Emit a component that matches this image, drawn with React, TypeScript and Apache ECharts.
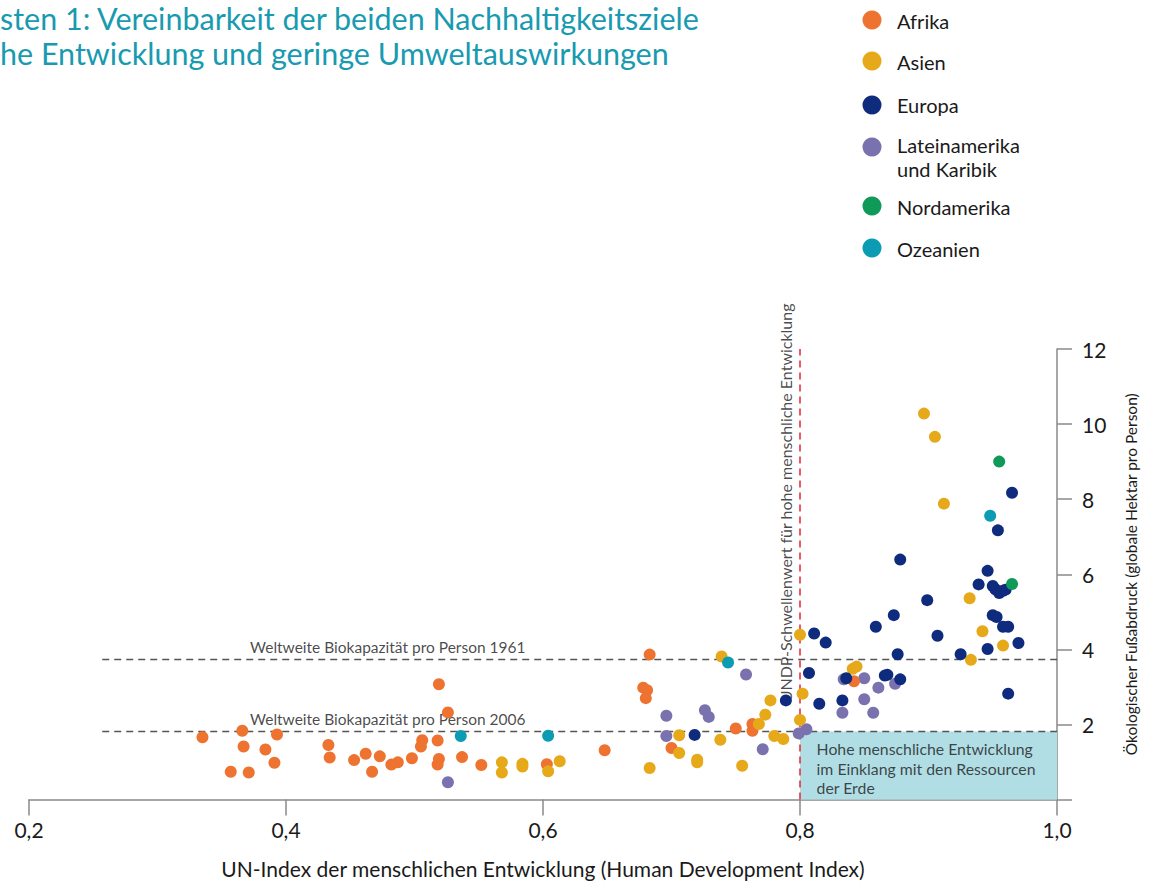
import React, { useEffect, useRef } from "react";
import * as echarts from "echarts";

// ---------- data (HDI, ecological footprint in gha per person) ----------
const REGION_NAMES = ["Afrika", "Asien", "Europa", "Lateinamerika und Karibik", "Nordamerika", "Ozeanien"];
const LEGEND_LABELS = ["Afrika", "Asien", "Europa", "Lateinamerika\nund Karibik", "Nordamerika", "Ozeanien"];
const REGION_COLORS = ["#EE7330", "#E6A919", "#0E2B7E", "#7A72AE", "#0F9A57", "#0B9CB3"];

const AFRIKA: [number, number][] = [
  [0.335, 1.66], [0.366, 1.83], [0.367, 1.41], [0.357, 0.74], [0.371, 0.72], [0.384, 1.33], [0.393, 1.73], [0.391, 0.98],
  [0.433, 1.45], [0.434, 1.12], [0.453, 1.05], [0.462, 1.22], [0.473, 1.15], [0.467, 0.74], [0.482, 0.93], [0.487, 0.99],
  [0.498, 1.10], [0.505, 1.41], [0.506, 1.58], [0.518, 1.57], [0.519, 3.07], [0.526, 2.32], [0.519, 1.08], [0.518, 0.93],
  [0.537, 1.13], [0.552, 0.92], [0.603, 0.94], [0.648, 1.31], [0.683, 3.86], [0.678, 2.98], [0.681, 2.91], [0.680, 2.70],
  [0.700, 1.37], [0.750, 1.89], [0.763, 2.01], [0.763, 1.83], [0.842, 3.15],
];
const ASIEN: [number, number][] = [
  [0.568, 0.99], [0.568, 0.72], [0.584, 0.95], [0.584, 0.88], [0.604, 0.75], [0.613, 1.02], [0.683, 0.84], [0.706, 1.71],
  [0.706, 1.24], [0.720, 1.06], [0.720, 0.99], [0.739, 3.81], [0.738, 1.59], [0.755, 0.90], [0.768, 2.01], [0.773, 2.26],
  [0.777, 2.64], [0.780, 1.69], [0.787, 1.61], [0.800, 4.39], [0.802, 2.82], [0.800, 2.12], [0.8965, 10.28], [0.905, 9.66],
  [0.912, 7.88], [0.932, 5.36], [0.942, 4.48], [0.958, 4.10], [0.933, 3.72], [0.841, 3.48], [0.844, 3.54],
];
const EUROPA: [number, number][] = [
  [0.718, 1.72], [0.789, 2.64], [0.811, 4.42], [0.820, 4.18], [0.807, 3.37], [0.815, 2.55], [0.833, 2.64], [0.836, 3.23],
  [0.859, 4.60], [0.866, 3.30], [0.868, 3.32], [0.873, 4.91], [0.876, 3.87], [0.878, 3.20], [0.878, 6.39], [0.899, 5.31],
  [0.907, 4.36], [0.925, 3.87], [0.939, 5.73], [0.946, 6.09], [0.946, 4.01], [0.950, 5.69], [0.952, 5.60], [0.955, 5.50],
  [0.958, 5.56], [0.960, 5.59], [0.950, 4.91], [0.953, 4.86], [0.958, 4.60], [0.962, 4.60], [0.954, 7.17], [0.965, 8.17],
  [0.970, 4.17], [0.962, 2.82],
];
const LATEINAMERIKA: [number, number][] = [
  [0.526, 0.46], [0.696, 2.23], [0.696, 1.69], [0.726, 2.38], [0.729, 2.20], [0.758, 3.33], [0.771, 1.34], [0.799, 1.76],
  [0.805, 1.87], [0.834, 3.20], [0.850, 3.23], [0.833, 2.31], [0.850, 2.67], [0.857, 2.31], [0.861, 2.98], [0.874, 3.08],
];
const NORDAMERIKA: [number, number][] = [[0.955, 9.00], [0.965, 5.74]];
const OZEANIEN: [number, number][] = [[0.536, 1.69], [0.604, 1.70], [0.744, 3.65], [0.948, 7.56]];

const REGION_DATA = [AFRIKA, ASIEN, EUROPA, LATEINAMERIKA, NORDAMERIKA, OZEANIEN];
const DRAW_ORDER = [3, 0, 1, 2, 4, 5];

const BIOCAP_LABELS = ["Weltweite Biokapazität pro Person 1961", "Weltweite Biokapazität pro Person 2006"];
const BIOCAP_VALUES = [3.73, 1.81];
const BIOCAP_START = 0.257;
const BIOCAP_LABEL_X = 0.372;

const UNDP_THRESHOLD = 0.8;
const UNDP_LABEL = "UNDP-Schwellenwert für hohe menschliche Entwicklung";
const BOX_LABEL = "Hohe menschliche Entwicklung\nim Einklang mit den Ressourcen\nder Erde";

const TITLE_LINES = ["sten 1: Vereinbarkeit der beiden Nachhaltigkeitsziele", "he Entwicklung und geringe Umweltauswirkungen"];
const X_NAME = "UN-Index der menschlichen Entwicklung (Human Development Index)";
const Y_NAME = "Ökologischer Fußabdruck (globale Hektar pro Person)";

const X_MIN = 0.2, X_MAX = 1.0, X_STEP = 0.2;
const Y_MIN = 0, Y_MAX = 12, Y_STEP = 2;

const FONT = "Lato, 'Noto Sans', sans-serif";
const INK = "#1a1a1a";

export default function App() {
  const ref = useRef<HTMLDivElement>(null);

  useEffect(() => {
    if (!ref.current) return;
    const chart = echarts.init(ref.current, undefined, { renderer: "svg" });

    const legendYs = [21, 62, 105, 157, 207, 249];
    const legendCircleYs = [20, 61, 105, 147, 206, 248];

    const graphic: any[] = [];
    TITLE_LINES.forEach((t, i) => {
      graphic.push({
        type: "text",
        x: 0,
        y: i === 0 ? 18 : 53,
        style: { text: t, fontFamily: FONT, fontSize: 30.5, fill: "#189AB1", verticalAlign: "middle", align: "left" },
      });
    });
    LEGEND_LABELS.forEach((t, i) => {
      graphic.push({
        type: "circle",
        shape: { cx: 872, cy: legendCircleYs[i], r: 9.5 },
        style: { fill: REGION_COLORS[i] },
      });
      graphic.push({
        type: "text",
        x: 897,
        y: legendYs[i],
        style: {
          text: t,
          fontFamily: FONT,
          fontSize: 20,
          lineHeight: 24,
          fill: INK,
          verticalAlign: "middle",
          align: "left",
        },
      });
    });

    const series: any[] = [];

    // helper series carrying the box and the threshold line
    series.push({
      type: "line",
      name: "threshold",
      data: [],
      silent: true,
      z: 1,
      markArea: {
        silent: true,
        itemStyle: { color: "#B1DDE4" },
        label: { show: false },
        data: [[{ coord: [UNDP_THRESHOLD, 0] }, { coord: [X_MAX, BIOCAP_VALUES[1]] }]],
      },
      markLine: {
        silent: true,
        symbol: "none",
        label: { show: false },
        lineStyle: { color: "#E5323C", type: [7, 5], width: 1.6 },
        data: [{ xAxis: UNDP_THRESHOLD }],
      },
    });

    BIOCAP_VALUES.forEach((v, i) => {
      series.push({
        type: "line",
        name: BIOCAP_LABELS[i],
        data: [[BIOCAP_START, v], [X_MAX, v]],
        symbol: "none",
        silent: true,
        z: 2,
        lineStyle: { color: "#555", type: [7, 5], width: 1.6 },
      });
    });

    // text annotations
    series.push({
      type: "scatter",
      name: "annotations",
      silent: true,
      z: 3,
      symbolSize: 1,
      itemStyle: { color: "rgba(0,0,0,0)" },
      data: [
        ...BIOCAP_VALUES.map((v, i) => ({
          value: [BIOCAP_LABEL_X, v],
          label: {
            show: true,
            formatter: BIOCAP_LABELS[i],
            position: "top",
            align: "left",
            distance: 4,
            fontFamily: FONT,
            fontSize: 15.5,
            color: INK,
          },
        })),
        {
          value: [0.7885, 7.9],
          label: {
            show: true,
            formatter: UNDP_LABEL,
            position: "inside",
            rotate: 90,
            fontFamily: FONT,
            fontSize: 16,
            color: INK,
          },
        },
        {
          value: [0.8125, 0.83],
          label: {
            show: true,
            formatter: BOX_LABEL,
            position: "right",
            align: "left",
            verticalAlign: "middle",
            distance: 0,
            fontFamily: FONT,
            fontSize: 15.8,
            lineHeight: 19.5,
            color: INK,
          },
        },
      ],
    });

    DRAW_ORDER.forEach((i) => {
      series.push({
        type: "scatter",
        name: REGION_NAMES[i],
        data: REGION_DATA[i],
        symbolSize: 12,
        z: 5,
        itemStyle: { color: REGION_COLORS[i], opacity: 1 },
      });
    });

    chart.setOption({
      animation: false,
      backgroundColor: "#ffffff",
      textStyle: { fontFamily: FONT },
      grid: { left: 29, right: 92, top: 349, bottom: 80.5, containLabel: false },
      xAxis: {
        type: "value",
        min: X_MIN,
        max: X_MAX,
        interval: X_STEP,
        name: X_NAME,
        nameLocation: "middle",
        nameGap: 58.5,
        nameTextStyle: { fontFamily: FONT, fontSize: 21, color: INK },
        axisLine: { show: true, lineStyle: { color: "#8a8a8a", width: 1.5 } },
        axisTick: { show: true, length: 16, lineStyle: { color: "#8a8a8a", width: 1.5 } },
        axisLabel: {
          margin: 19,
          fontFamily: FONT,
          fontSize: 21,
          color: INK,
          formatter: (v: number) => v.toFixed(1).replace(".", ","),
        },
        splitLine: { show: false },
      },
      yAxis: {
        type: "value",
        position: "right",
        min: Y_MIN,
        max: Y_MAX,
        interval: Y_STEP,
        name: Y_NAME,
        nameLocation: "middle",
        nameRotate: 90,
        nameGap: 66,
        nameTextStyle: { fontFamily: FONT, fontSize: 15.5, color: INK },
        axisLine: { show: true, onZero: false, lineStyle: { color: "#8a8a8a", width: 1.5 } },
        axisTick: { show: true, length: 15, lineStyle: { color: "#8a8a8a", width: 1.5 } },
        axisLabel: {
          margin: 25,
          fontFamily: FONT,
          fontSize: 21,
          color: INK,
          formatter: (v: number) => (v === 0 ? "" : String(v)),
        },
        splitLine: { show: false },
      },
      graphic,
      series,
    });

    return () => chart.dispose();
  }, []);

  return (
    <div
      ref={ref}
      style={{ position: "absolute", left: 0, top: 0, width: 1149, height: 884, background: "#fff" }}
    />
  );
}
